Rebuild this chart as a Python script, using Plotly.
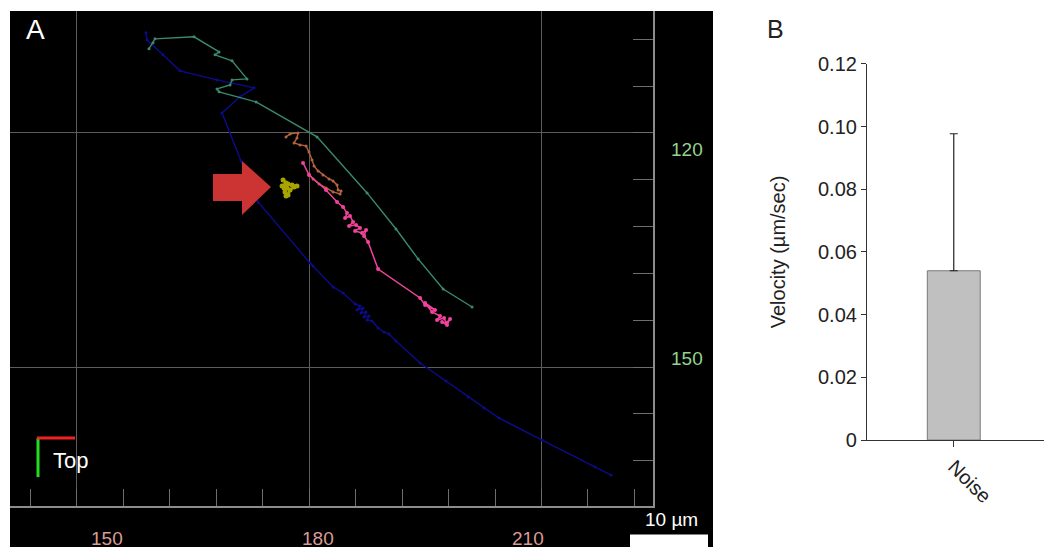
import plotly.graph_objects as go

W, H = 1044, 558

# ---------------- data (panel A: tracks, µm) ----------------
NAVY_X = [158.91, 159.04, 161.11, 163.31, 168.09, 172.87, 171.06, 168.73, 171.19, 173.39,
          180.10, 180.49, 183.08, 184.37, 185.92, 186.56, 186.18, 186.95, 186.69, 187.34,
          187.08, 187.73, 187.47, 188.11, 188.89, 189.66, 190.31, 191.21, 194.32, 197.67,
          200.52, 202.58, 204.52, 210.08, 216.93, 218.99]
NAVY_Y = [107.18, 108.08, 110.00, 112.05, 113.21, 114.23, 115.38, 117.44, 123.59, 128.85,
          136.67, 137.05, 139.74, 140.51, 141.92, 142.18, 142.69, 142.44, 143.08, 142.95,
          143.59, 143.46, 143.97, 144.10, 145.00, 145.51, 145.77, 146.67, 149.49, 151.79,
          153.85, 155.26, 156.54, 159.36, 162.82, 163.84]

TEAL_X = [159.30, 159.82, 160.08, 165.12, 168.35, 167.83, 170.03, 171.96, 170.03, 169.77,
          168.09, 168.35, 173.13, 181.01, 187.47, 191.21, 194.06, 197.29, 201.03]
TEAL_Y = [109.23, 108.46, 107.95, 107.69, 109.62, 110.00, 110.77, 113.08, 113.21, 113.85,
          114.36, 114.74, 116.03, 120.51, 127.69, 132.31, 136.15, 140.00, 142.31]

BROWN_X = [177.00, 177.52, 178.55, 178.42, 178.04, 178.81, 179.59, 179.97, 180.36, 180.62,
           181.14, 181.78, 182.56, 183.08, 183.59, 183.72, 184.11, 183.98, 183.08, 182.17,
           181.27, 180.49, 179.97]
BROWN_Y = [120.51, 120.13, 120.00, 120.64, 121.28, 121.54, 121.67, 122.44, 123.46, 124.23,
           124.87, 125.38, 125.90, 126.15, 126.67, 127.31, 127.44, 127.82, 127.56, 127.05,
           126.54, 125.90, 125.26]

PINK_X = [179.20, 179.97, 182.17, 183.59, 184.37, 184.88, 184.63, 185.27, 185.66, 185.14,
          186.05, 186.56, 185.92, 186.82, 187.34, 187.08, 187.60, 188.89, 194.32, 194.96,
          196.25, 194.96, 195.87, 196.90, 196.51, 197.42, 197.67, 198.19, 197.80, 197.16]
PINK_Y = [123.85, 125.38, 127.31, 128.85, 129.49, 130.26, 130.90, 130.64, 131.41, 131.92,
          131.79, 132.18, 132.56, 132.82, 132.44, 133.21, 133.97, 137.44, 141.15, 142.05,
          142.69, 141.79, 142.95, 143.46, 143.97, 143.72, 144.36, 143.85, 144.62, 144.23]

YELLOW_X = [176.62, 177.00, 176.49, 177.13, 176.87, 177.26, 177.52, 178.04, 178.42, 177.78,
            177.26, 176.75, 177.00]
YELLOW_Y = [126.03, 126.41, 126.79, 127.05, 127.56, 127.95, 127.31, 126.92, 126.79, 126.67,
            126.54, 127.05, 128.08]

# Panel A axis labels
X_LABELS = ["150", "180", "210"]
Y_LABELS = ["120", "150"]
SCALE_TEXT = "10 µm"

# ---------------- data (panel B) ----------------
CATEGORIES = ["Noise"]
VEL_MEAN = [0.054]
VEL_ERR = [0.0437]
Y2_TICKS = [0, 0.02, 0.04, 0.06, 0.08, 0.10, 0.12]
Y2_TEXT = ["0", "0.02", "0.04", "0.06", "0.08", "0.10", "0.12"]

# vertical placement helper (screen y in reference pixels -> paper)
OFF, S = 11.2, 0.96


def ty(y):
    return min(max((y - OFF) / S, 0.0), float(H))


def px(x):
    return x / W


def py(y):
    return 1 - ty(y) / H


FONT = "Arial, Liberation Sans, sans-serif"

fig = go.Figure()

tracks = [
    (NAVY_X, NAVY_Y, "#0c0c8a", 1.4, 3),
    (TEAL_X, TEAL_Y, "#3a8a6c", 1.4, 3),
    (BROWN_X, BROWN_Y, "#b4643e", 1.4, 3),
    (PINK_X, PINK_Y, "#f2429c", 1.5, 4),
    (YELLOW_X, YELLOW_Y, "#a8a400", 2.5, 5),
]
for xs, ys, col, lw, ms in tracks:
    fig.add_trace(go.Scatter(
        x=xs, y=ys, mode="lines+markers",
        line=dict(color=col, width=lw),
        marker=dict(color=col, size=ms),
        xaxis="x", yaxis="y", showlegend=False, hoverinfo="skip"))

fig.add_trace(go.Bar(
    x=CATEGORIES, y=VEL_MEAN, width=0.305,
    marker=dict(color="#c0c0c0", line=dict(color="#7a7a7a", width=1)),
    error_y=dict(type="data", array=VEL_ERR, arrayminus=[0], symmetric=False,
                 color="#222222", thickness=1.2, width=4),
    xaxis="x2", yaxis="y2", showlegend=False))

grid_col = "#5c5c5c"
line_col = "#8c8c8c"
tick_col = "#6e6e6e"

shapes = [
    # black image background of panel A
    dict(type="rect", xref="paper", yref="paper", x0=px(10), x1=px(713), y0=0, y1=1,
         fillcolor="black", line=dict(width=0), layer="below"),
    # orientation gizmo
    dict(type="line", xref="paper", yref="paper", x0=px(38), x1=px(38), y0=py(438), y1=py(477),
         line=dict(color="#22dd22", width=3)),
    dict(type="line", xref="paper", yref="paper", x0=px(37), x1=px(75), y0=py(438), y1=py(438),
         line=dict(color="#ee2222", width=3)),
    # scale bar
    dict(type="rect", xref="paper", yref="paper", x0=px(630), x1=px(708), y0=0, y1=1 - 545 / H,
         fillcolor="white", line=dict(width=0)),
    # red arrow
    dict(type="path", xref="paper", yref="paper",
         path=(f"M {px(213)} {py(174)} L {px(242)} {py(174)} L {px(242)} {py(161)} "
               f"L {px(271)} {py(187)} L {px(242)} {py(215)} L {px(242)} {py(201)} "
               f"L {px(213)} {py(201)} Z"),
         fillcolor="#cc3333", line=dict(width=0)),
]

ann = []


def add_text(text, x, y, size, color, yanchor="middle", **kw):
    ann.append(dict(text=text, x=px(x), y=py(y) if yanchor == "middle" else y,
                    xref="paper", yref="paper", showarrow=False,
                    font=dict(family=FONT, size=size, color=color),
                    xanchor="center", yanchor=yanchor, **kw))


add_text("A", 35, 30, 28, "white")
add_text("Top", 70, 460, 22, "white")
add_text(SCALE_TEXT, 671, 519, 19, "white")
for t, xx in zip(X_LABELS, [107, 318, 528]):
    add_text(t, xx, -4 / H, 19, "#d99c94", yanchor="bottom")
for t, yy in zip(Y_LABELS, [150, 358]):
    add_text(t, 687, yy, 19, "#92d48e")
add_text("B", 775, 29, 25, "#222222")

# panel A y range: reference rows 11.2 and 506 correspond to the domain edges
fig.update_layout(
    width=W, height=H, margin=dict(l=0, r=0, t=0, b=0),
    paper_bgcolor="white", plot_bgcolor="rgba(0,0,0,0)",
    font=dict(family=FONT, color="#222222"),
    shapes=shapes, annotations=ann, showlegend=False,
    xaxis=dict(domain=[px(10), px(653)], range=[141.35, 224.4], anchor="y",
               showgrid=True, gridcolor=grid_col, gridwidth=1,
               tick0=150, dtick=30, ticks="inside", ticklen=17, tickcolor=tick_col,
               showticklabels=False, showline=True, linecolor=line_col, linewidth=1.5,
               zeroline=False,
               minor=dict(tick0=150, dtick=6, ticks="inside", ticklen=17,
                          tickcolor=tick_col, showgrid=False)),
    yaxis=dict(domain=[py(506), 1.0], range=[167.82, 104.38], anchor="x", side="right",
               showgrid=True, gridcolor=grid_col, gridwidth=1,
               tick0=120, dtick=30, ticks="inside", ticklen=20, tickcolor=tick_col,
               showticklabels=False, showline=True, linecolor=line_col, linewidth=1.5,
               zeroline=False,
               minor=dict(tick0=120, dtick=6, ticks="inside", ticklen=20,
                          tickcolor=tick_col, showgrid=False)),
    xaxis2=dict(domain=[px(867), 1.0], range=[-0.5, 0.52], anchor="y2", type="category",
                showgrid=False, showline=True, linecolor="#333333", linewidth=1.2,
                ticks="outside", ticklen=6, tickcolor="#333333", tickangle=45,
                tickfont=dict(family=FONT, size=20, color="#222222"), zeroline=False),
    yaxis2=dict(domain=[py(440), py(64)], range=[0, 0.12], anchor="x2",
                showgrid=False, showline=True, linecolor="#333333", linewidth=1.2,
                ticks="outside", ticklen=5, tickcolor="#333333",
                tickvals=Y2_TICKS, ticktext=Y2_TEXT,
                tickfont=dict(family=FONT, size=20, color="#222222"), zeroline=False,
                title=dict(text="Velocity (µm/sec)", standoff=26,
                           font=dict(family=FONT, size=20, color="#222222"))),
)

fig.write_html("out.html")
